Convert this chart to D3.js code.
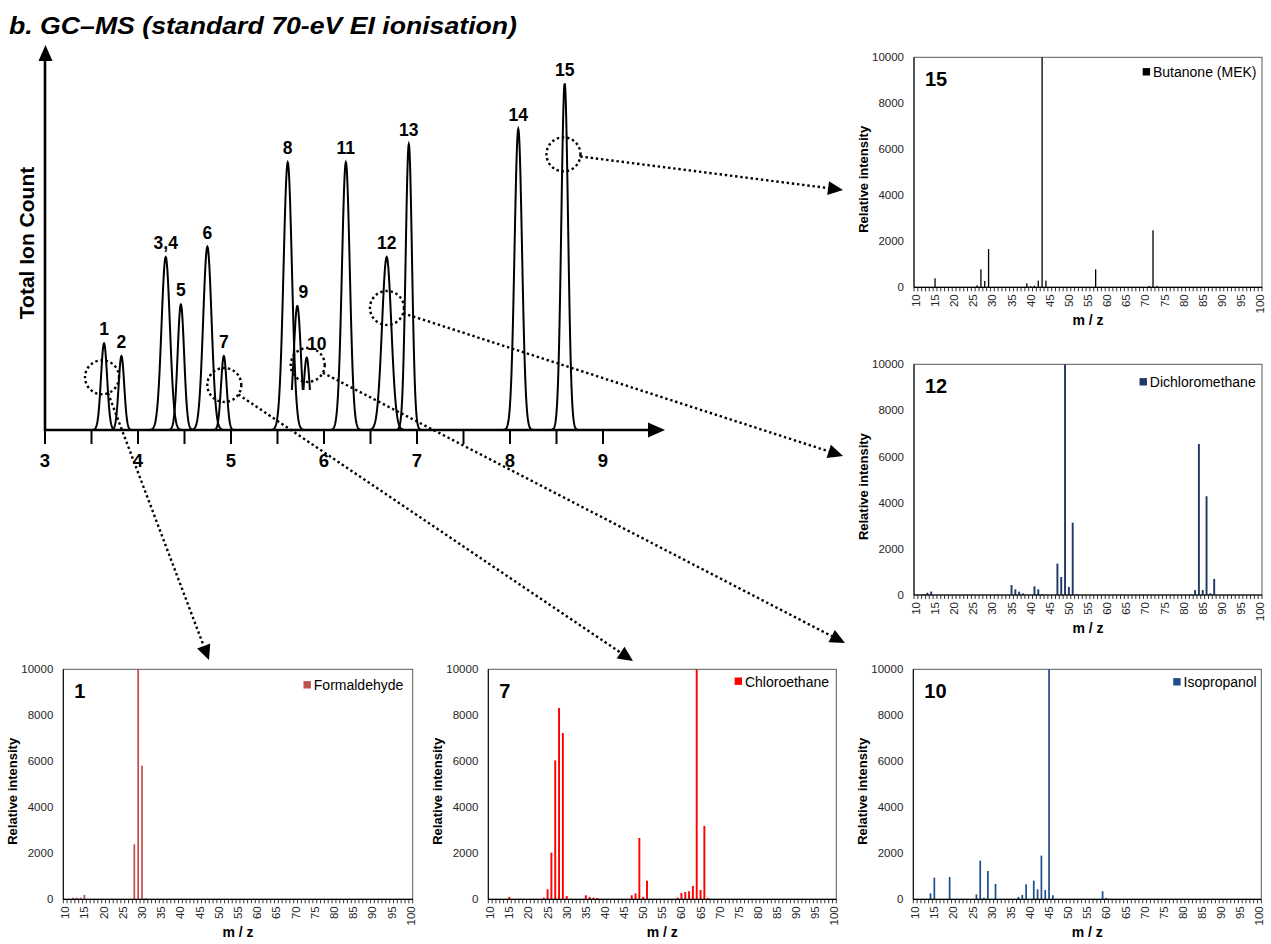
<!DOCTYPE html>
<html><head><meta charset="utf-8">
<script src="https://cdn.jsdelivr.net/npm/d3@7"></script>
<style>body{margin:0;background:#fff}svg{display:block}text{font-family:"Liberation Sans",Arial,sans-serif}</style>
</head><body><svg id="c" width="1271" height="944"></svg>
<script>
// ---------- Chromatogram data ----------
const peakLabels  = ["1","2","3,4","5","6","7","8","9","10","11","12","13","14","15"];
const peakTimes   = [3.635,3.822,4.298,4.461,4.746,4.923,5.610,5.713,5.814,6.235,6.674,6.912,8.089,8.588];
const peakHeights = [22.5,19.2,44.9,32.6,47.6,19.2,69.5,32.2,18.8,69.5,44.9,74.2,78.2,90.0];
const peakWidths  = [0.033,0.030,0.045,0.035,0.045,0.030,0.045,0.039,0.032,0.042,0.050,0.034,0.040,0.036];
const peakFloor   = [0,0,0,0,0,0,0,10.4,10.4,0,0,0,0,0];
const peakLabelDx = [0,0,0,0,0,0,0,6,10,0,0,0,0,0];
const timeTicks = [3,4,5,6,7,8,9];
const timeMinorTicks = [3.5,4.5,5.5,6.5,7.5,8.5];

// callouts: circled regions (time, intensity) -> spectrum panel
const calloutPanel = ["1","7","10","12","15"];
const calloutT = [3.613,4.928,5.825,6.677,8.575];
const calloutV = [13.7,11.7,16.9,31.7,71.6];

// ---------- Mass spectra data ----------
const mzAxis = d3.range(10,101);
const mzTickLabels = d3.range(10,101,5);
const intensityTicks = [0,2000,4000,6000,8000,10000];

const mz15  = [15,26,27,28,29,39,40,41,42,43,44,57,71,72,73];
const int15 = [390,85,780,275,1665,175,50,70,290,10000,290,780,60,2480,60];

const mz12  = [12,13,14,31,35,36,37,38,41,42,43,47,48,49,50,51,52,82,83,84,85,86,87,88];
const int12 = [40,100,150,20,430,245,145,70,375,245,30,1360,780,10000,350,3135,30,30,215,6545,215,4280,75,695];

const mz10  = [14,15,19,26,27,28,29,31,37,38,39,41,42,43,44,45,46,59,60];
const int10 = [260,940,970,217,1680,70,1230,667,100,190,650,810,435,1900,405,10000,175,350,60];

const mz1  = [12,13,14,15,28,29,30,31];
const int1 = [70,70,70,190,2390,10000,5810,40];

const mz7  = [15,24,25,26,27,28,29,30,35,36,37,38,47,48,49,50,51,59,60,61,62,63,64,65,66,67];
const int7 = [100,70,435,2030,6040,8315,7230,145,175,100,70,55,175,260,2665,100,810,70,275,320,350,580,10000,405,3190,55];

const panelIds    = ["15","12","10","1","7"];
const panelNames  = ["Butanone (MEK)","Dichloromethane","Isopropanol","Formaldehyde","Chloroethane"];
const panelColors = ["#000000","#1F3864","#1F4E8C","#C0504D","#FF0000"];
const panelMz  = [mz15,mz12,mz10,mz1,mz7];
const panelInt = [int15,int12,int10,int1,int7];

// layout (pixel boxes of each plot area)
const panelBox = {
  "15": {l:914,  r:1262,  t:57.3,  b:287.3, pad:0.66, legDy:20,   legDx:5.5},
  "12": {l:914,  r:1262,  t:364.3, b:595,   pad:0.5,  legDy:23,   legDx:6.3},
  "10": {l:913.3,r:1261.3,t:669.3, b:899.3, pad:0.55, legDy:18,   legDx:4.6},
  "1":  {l:63.3, r:412.7, t:669.3, b:899.3, pad:0.55, legDy:21,   legDx:9.4},
  "7":  {l:488.3,r:836.3, t:669.3, b:899.3, pad:0.5,  legDy:17.4, legDx:7.3}
};
const arrowTarget = {"1":[209,660],"7":[633,661],"10":[845,643],"12":[843,456],"15":[843,190]};

const svg = d3.select("#c");

// ---------- Title ----------
svg.append("text").attr("x",9).attr("y",34)
  .attr("font-size",23.5).attr("font-weight","bold").attr("font-style","italic")
  .attr("textLength",508).attr("lengthAdjust","spacingAndGlyphs")
  .text("b. GC\u2013MS (standard 70-eV EI ionisation)");

// ---------- Chromatogram ----------
const x = d3.scaleLinear().domain([3,9]).range([45,603]);
const y = d3.scaleLinear().domain([0,100]).range([430,45]);
const g = svg.append("g");

const line = d3.line().x(d=>x(d[0])).y(d=>y(d[1]));
peakTimes.forEach((c,i)=>{
  const H = peakHeights[i], s = peakWidths[i], f = peakFloor[i];
  let pts = [];
  if (f > 0) {
    const hw = s*Math.sqrt(2*Math.log(H/f));
    const n = 60;
    for (let k=0;k<=n;k++){ const t = c - hw + 2*hw*k/n; pts.push([t, H*Math.exp(-((t-c)**2)/(2*s*s))]); }
  } else {
    const n = 100;
    for (let k=0;k<=n;k++){ const t = c - 4*s + 8*s*k/n; pts.push([t, H*Math.exp(-((t-c)**2)/(2*s*s))]); }
  }
  g.append("path").attr("d",line(pts)).attr("fill","none").attr("stroke","#000").attr("stroke-width",2);
  g.append("text").attr("x",x(c)+peakLabelDx[i]).attr("y",y(H)-8).attr("text-anchor","middle")
    .attr("font-size",17.5).attr("font-weight","bold").text(peakLabels[i]);
});

// axes
const axisG = svg.append("g");
axisG.append("line").attr("x1",x(3)).attr("x2",650).attr("y1",y(0)).attr("y2",y(0)).attr("stroke","#000").attr("stroke-width",2.6);
axisG.append("line").attr("x1",x(3)).attr("x2",x(3)).attr("y1",y(0)+1).attr("y2",58).attr("stroke","#000").attr("stroke-width",2.6);
axisG.append("path").attr("d",`M665,${y(0)} L648,${y(0)-7.5} L648,${y(0)+7.5}Z`).attr("fill","#000");
axisG.append("path").attr("d",`M${x(3)+0.5},45 L${x(3)-6.5},61 L${x(3)+7.5},61Z`).attr("fill","#000");
timeTicks.concat(timeMinorTicks).forEach(t=>{
  axisG.append("line").attr("x1",x(t)).attr("x2",x(t)).attr("y1",y(0)).attr("y2",y(0)+14).attr("stroke","#000").attr("stroke-width",2);
});
timeTicks.forEach(t=>{
  axisG.append("text").attr("x",x(t)).attr("y",467).attr("text-anchor","middle")
    .attr("font-size",18.5).attr("font-weight","bold").text(t);
});
svg.append("text").attr("transform","translate(34,243) rotate(-90)").attr("text-anchor","middle")
  .attr("font-size",21).attr("font-weight","bold").text("Total Ion Count");

// ---------- Spectra ----------
panelIds.forEach((id,pi)=>{
  const B = panelBox[id];
  const xs = d3.scaleBand().domain(mzAxis).range([B.l,B.r]).paddingInner(B.pad).paddingOuter(B.pad/2);
  const ys = d3.scaleLinear().domain([0,10000]).range([B.b,B.t]);
  const pg = svg.append("g");
  // frame
  pg.append("rect").attr("x",B.l).attr("y",B.t).attr("width",B.r-B.l).attr("height",B.b-B.t)
    .attr("fill","none").attr("stroke","#595959").attr("stroke-width",1);
  // bars
  pg.selectAll("rect.bar").data(panelMz[pi].map((m,k)=>({m, v:panelInt[pi][k]}))).join("rect")
    .attr("class","bar").attr("x",d=>xs(d.m)).attr("width",xs.bandwidth())
    .attr("y",d=>ys(d.v)).attr("height",d=>ys(0)-ys(d.v)).attr("fill",panelColors[pi]);
  // axis lines
  pg.append("line").attr("x1",B.l).attr("x2",B.l).attr("y1",B.t).attr("y2",B.b).attr("stroke","#000").attr("stroke-width",1);
  pg.append("line").attr("x1",B.l).attr("x2",B.r).attr("y1",B.b).attr("y2",B.b).attr("stroke","#000").attr("stroke-width",1.2);
  d3.range(mzAxis.length+1).forEach(k=>{
    const xx = B.l + k*(B.r-B.l)/mzAxis.length;
    pg.append("line").attr("x1",xx).attr("x2",xx).attr("y1",B.b).attr("y2",B.b+4).attr("stroke","#000").attr("stroke-width",0.8);
  });
  // y tick labels
  intensityTicks.forEach(v=>{
    pg.append("text").attr("x",B.l-10).attr("y",ys(v)).attr("dy","0.35em").attr("text-anchor","end")
      .attr("font-size",11.5).attr("fill","#262626").text(v);
  });
  // x tick labels
  mzTickLabels.forEach(m=>{
    const cx = xs(m)+xs.bandwidth()/2;
    pg.append("text").attr("transform",`translate(${cx},${B.b+7}) rotate(-90)`).attr("dy","0.35em")
      .attr("text-anchor","end").attr("font-size",11.5).attr("fill","#262626").text(m);
  });
  // titles
  pg.append("text").attr("transform",`translate(${B.l-46},${(B.t+B.b)/2+7}) rotate(-90)`).attr("text-anchor","middle")
    .attr("font-size",13).attr("font-weight","bold").text("Relative intensity");
  pg.append("text").attr("x",(B.l+B.r)/2).attr("y",B.b+38).attr("text-anchor","middle")
    .attr("font-size",14).attr("font-weight","bold").text("m / z");
  pg.append("text").attr("x",B.l+11).attr("y",B.t+29).attr("font-size",20).attr("font-weight","bold").text(id);
  // legend
  const lt = pg.append("text").attr("x",B.r-B.legDx).attr("y",B.t+B.legDy).attr("text-anchor","end")
    .attr("font-size",14).attr("fill","#000").text(panelNames[pi]);
  const w = lt.node().getComputedTextLength();
  pg.append("rect").attr("x",B.r-B.legDx-w-10.3).attr("y",B.t+B.legDy-9.2).attr("width",7.4).attr("height",7.4).attr("fill",panelColors[pi]);
});

// ---------- Callouts ----------
const R = 17;
calloutPanel.forEach((id,i)=>{
  const cx = x(calloutT[i]), cy = y(calloutV[i]);
  svg.append("circle").attr("cx",cx).attr("cy",cy).attr("r",R).attr("fill","none")
    .attr("stroke","#000").attr("stroke-width",2.4).attr("stroke-dasharray","2.4,2.8");
  const [tx,ty] = arrowTarget[id];
  const dx = tx-cx, dy = ty-cy, L = Math.hypot(dx,dy), ux = dx/L, uy = dy/L;
  const sx = cx+ux*R, sy = cy+uy*R;
  const hl = 15, hw = 7;
  const bx = tx-ux*hl, by = ty-uy*hl;
  svg.append("line").attr("x1",sx).attr("y1",sy).attr("x2",bx).attr("y2",by)
    .attr("stroke","#000").attr("stroke-width",2.4).attr("stroke-dasharray","2.4,2.8");
  svg.append("path").attr("d",`M${tx},${ty} L${bx-uy*hw},${by+ux*hw} L${bx+uy*hw},${by-ux*hw}Z`).attr("fill","#000");
});
</script></body></html>
